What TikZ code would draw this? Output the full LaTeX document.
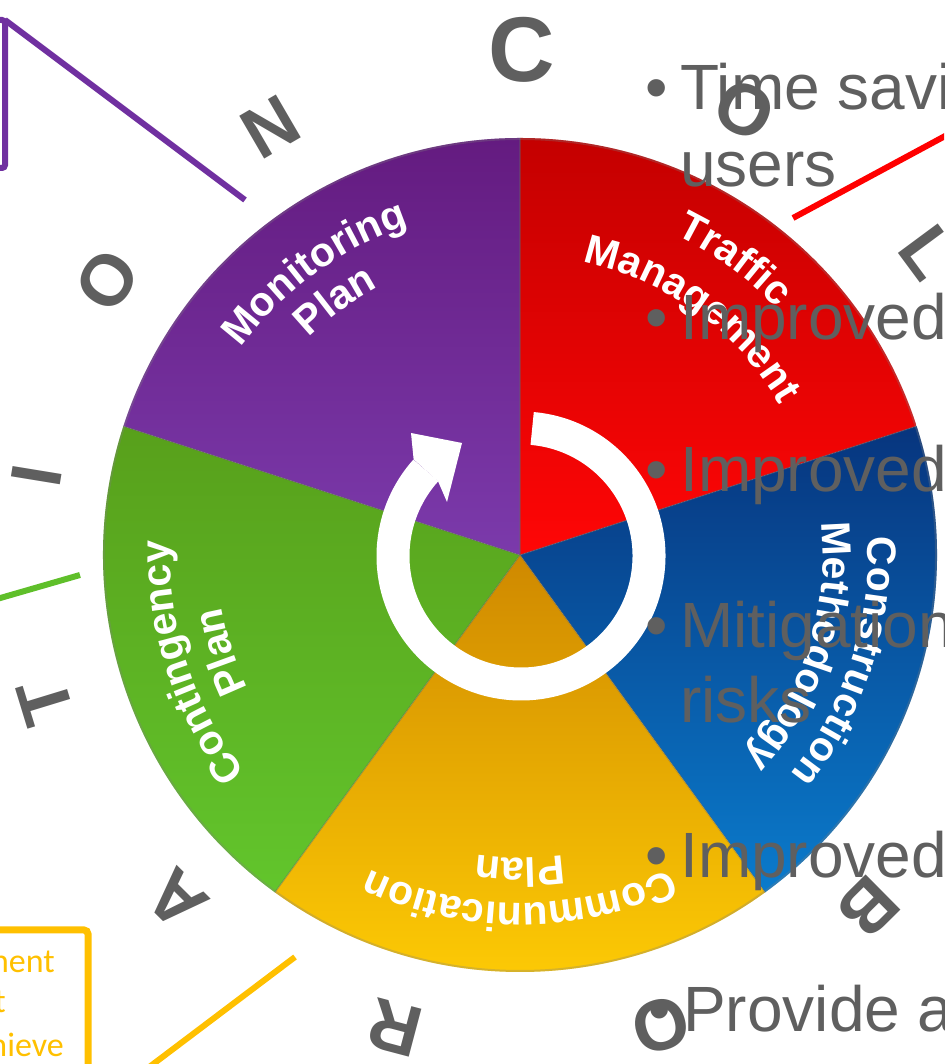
\documentclass[tikz,border=0pt]{standalone}
\usepackage{fontspec}
\setmainfont{Liberation Sans}
\newfontfamily\calibfont{Carlito}
\usetikzlibrary{decorations.text}
\definecolor{txtgray}{HTML}{5F5F5F}
\definecolor{redT}{HTML}{C40000}
\definecolor{redB}{HTML}{FF0606}
\definecolor{purT}{HTML}{641B80}
\definecolor{purB}{HTML}{7B3AAB}
\definecolor{grnT}{HTML}{58A01B}
\definecolor{grnB}{HTML}{62C52C}
\definecolor{yelT}{HTML}{CF8900}
\definecolor{yelB}{HTML}{FFCD05}
\definecolor{bluT}{HTML}{07357E}
\definecolor{bluB}{HTML}{0A7BCC}
\definecolor{linePur}{HTML}{7030A0}
\definecolor{lineRed}{HTML}{FF0000}
\definecolor{lineGrn}{HTML}{5FBF2A}
\definecolor{lineYel}{HTML}{FFC000}
\newcommand\lblfont{\bfseries\fontsize{41}{41}\selectfont}
\tikzset{
  sepline/.style={draw=black!60, opacity=0.35, line width=1.5},
  bigletter/.style={font=\bfseries\fontsize{72}{72}\selectfont, text=txtgray, inner sep=0pt},
  bultxt/.style={font=\fontsize{64}{75}\selectfont, text=txtgray, inner sep=0pt, anchor=base west},
  bulmark/.style={font=\fontsize{64}{75}\selectfont, text=txtgray, inner sep=0pt, anchor=base},
  callout/.style={line width=6},
  boxtxt/.style={font=\calibfont\fontsize{34}{40}\selectfont, text=lineYel, inner sep=0pt, anchor=base east},
  ringarrow/.style={draw=white, line width=33},
}
\begin{document}
\begin{tikzpicture}[x=1pt,y=1pt]
\useasboundingbox (0,0) rectangle (944,1064);
\clip (0,0) rectangle (944,1064);
\coordinate (O) at (520,509);
\coordinate (RC) at (521,508);

% callout lines and boxes
\draw[callout, linePur, rounded corners=3] (-10,1044) -- (5,1044) -- (5,896) -- (-10,896);
\coordinate (pA) at (5,1044);
\coordinate (pB) at (245,864);
\draw[callout, linePur] (pA) -- (pB);
\coordinate (rA) at (793,846);
\coordinate (rB) at (960,936);
\draw[callout, lineRed] (rA) -- (rB);
\coordinate (gA) at (80,489);
\coordinate (gB) at (-10,463);
\draw[callout, lineGrn] (gA) -- (gB);
\coordinate (yA) at (295,107);
\coordinate (yB) at (140,-10);
\draw[callout, lineYel] (yA) -- (yB);
\draw[line width=7, lineYel, rounded corners=4] (-10,134) -- (88,134) -- (88,-10);
\node[boxtxt] (bt1) at (55,91) {ment};
\node[boxtxt] (bt2) at (6,51) {t};
\node[boxtxt] (bt3) at (64,7) {hieve};

% sectors
\shade[top color=redT, bottom color=redB] (O) -- ++(90:417) arc[start angle=90, end angle=18, radius=417] -- cycle;
\shade[top color=bluT, bottom color=bluB] (O) -- ++(18:417) arc[start angle=18, end angle=-54, radius=417] -- cycle;
\shade[top color=yelT, bottom color=yelB] (O) -- ++(-54:417) arc[start angle=-54, end angle=-126, radius=417] -- cycle;
\shade[top color=grnT, bottom color=grnB] (O) -- ++(-126:417) arc[start angle=-126, end angle=-198, radius=417] -- cycle;
\shade[top color=purT, bottom color=purB] (O) -- ++(162:417) arc[start angle=162, end angle=90, radius=417] -- cycle;
\foreach \a in {90,18,-54,-126,162} {\draw[sepline] (O) -- ++(\a:417);}
\draw[draw=black!50, opacity=0.3, line width=2] (O) circle[radius=416];

% curved labels
\path[shift={(520,509)}, decorate, decoration={text along path, text align=center, text color=white, text={|\lblfont|Monitoring}}] (171:348) arc[start angle=171, end angle=81, radius=348];
\path[shift={(520,509)}, decorate, decoration={text along path, text align=center, text color=white, text={|\lblfont|Plan}}] (171:303) arc[start angle=171, end angle=81, radius=303];
\path[shift={(520,509)}, decorate, decoration={text along path, text align=center, text color=white, text={|\lblfont|Traffic}}] (99:356) arc[start angle=99, end angle=9, radius=356];
\path[shift={(520,509)}, decorate, decoration={text along path, text align=center, text color=white, text={|\lblfont|Management}}] (99:300) arc[start angle=99, end angle=9, radius=300];
\path[shift={(520,509)}, decorate, decoration={text along path, text align=center, text color=white, text={|\lblfont|Construction}}] (27:348) arc[start angle=27, end angle=-63, radius=348];
\path[shift={(520,509)}, decorate, decoration={text along path, text align=center, text color=white, text={|\lblfont|Methodology}}] (27:303) arc[start angle=27, end angle=-63, radius=303];
\path[shift={(520,509)}, decorate, decoration={text along path, text align=center, text color=white, text={|\lblfont|Communication}}] (-45:348) arc[start angle=-45, end angle=-135, radius=348];
\path[shift={(520,509)}, decorate, decoration={text along path, text align=center, text color=white, text={|\lblfont|Plan}}] (-45:303) arc[start angle=-45, end angle=-135, radius=303];
\path[shift={(520,509)}, decorate, decoration={text along path, text align=center, text color=white, text={|\lblfont|Contingency}}] (243:350) arc[start angle=243, end angle=153, radius=350];
\path[shift={(520,509)}, decorate, decoration={text along path, text align=center, text color=white, text={|\lblfont|Plan}}] (243:303) arc[start angle=243, end angle=153, radius=303];

% circular arrow
\draw[ringarrow] (RC) ++(85:128) arc[start angle=85, end angle=-222, radius=128];
\fill[white] (413.6,604.7) -- (411,631) -- (462,621) -- (447,562) -- (438.1,582.6) -- cycle;

% letters around
\node[bigletter, font=\bfseries\fontsize{92}{92}\selectfont] (c1) at (522,1014) {C};
\node[bigletter, rotate=-26.8] (c2) at (745,954) {O};
\node[bigletter, rotate=-53.5] (c3) at (928,812) {L};
\node[bigletter, rotate=-135.3] (c6) at (868,157) {B};
\node[bigletter, rotate=-163.3] (c7) at (661,39) {O};
\node[bigletter, rotate=-194.8] (c8) at (395,36) {R};
\node[bigletter, rotate=-224.8] (c9) at (177,164) {A};
\node[bigletter, rotate=107] (c10) at (45,362) {T};
\node[bigletter, rotate=80.7] (c11) at (37,588) {I};
\node[bigletter, rotate=56.3] (c12) at (107,784) {O};
\node[bigletter, rotate=30.2] (c13) at (271,937) {N};

% bullet text
\node[bulmark] (m1) at (657,954) {•};
\node[bultxt] (t1) at (680,954) {Time savi};
\node[bultxt] (t1b) at (680,877) {users};
\node[bulmark] (m2) at (657,724) {•};
\node[bultxt] (t2) at (680,724) {Improved};
\node[bulmark] (m3) at (657,572) {•};
\node[bultxt] (t3) at (680,572) {Improved};
\node[bulmark] (m4) at (657,416) {•};
\node[bultxt] (t4) at (680,416) {Mitigation};
\node[bultxt] (t4b) at (680,341) {risks};
\node[bulmark] (m5) at (657,186) {•};
\node[bultxt] (t5) at (680,186) {Improved};
\node[bulmark] (m6) at (660,32) {•};
\node[bultxt] (t6) at (683,32) {Provide a};
\end{tikzpicture}
\end{document}
